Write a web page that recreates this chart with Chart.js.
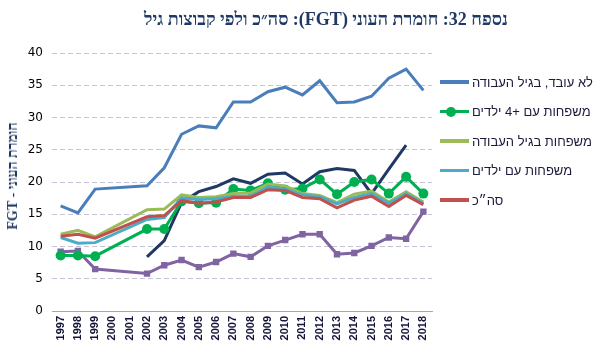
<!DOCTYPE html>
<html><head><meta charset="utf-8">
<script src="https://cdn.jsdelivr.net/npm/chart.js@4.4.1/dist/chart.umd.min.js"></script>
<style>
html,body{margin:0;padding:0;background:#fff;}
#wrap{width:600px;height:356px;position:relative;overflow:hidden;}
#title{position:absolute;left:0;width:652px;top:8px;text-align:center;font:bold 18px "Liberation Serif",serif;color:#1F3864;direction:rtl;white-space:nowrap;line-height:22px;}
#ytitle{position:absolute;left:13px;top:176px;transform:translate(-50%,-50%) rotate(-90deg);font:bold 14px "Liberation Serif",serif;color:#1F3864;direction:rtl;white-space:nowrap;line-height:16px;}
.lg{position:absolute;left:440px;height:20px;display:flex;align-items:center;white-space:nowrap;}
.lg .ln{width:29px;height:3.5px;position:relative;flex:none;}
.lg .dot{position:absolute;left:6px;top:-3.25px;width:10px;height:10px;border-radius:50%;}
.lg .tx{margin-left:3px;font:13px "Liberation Sans",sans-serif;color:#1a1a3a;direction:rtl;}
</style>
</head><body><div id="wrap"><canvas id="c" width="600" height="356"></canvas>
<div id="title"></div><div id="ytitle"></div><div id="legend"></div></div>
<script>
const years = ['1997','1998','1999','2000','2001','2002','2003','2004','2005','2006','2007','2008','2009','2010','2011','2012','2013','2014','2015','2016','2017','2018'];
const notWorking = [16.3,15.2,18.9,null,null,19.4,22.2,27.4,28.7,28.4,32.4,32.4,34.0,34.7,33.5,35.7,32.3,32.4,33.3,36.1,37.5,34.2];
const navySeries = [null,null,null,null,null,8.4,10.9,16.8,18.5,19.3,20.5,19.8,21.2,21.4,19.7,21.6,22.1,21.8,18.2,22.0,25.7,null];
const bigFamilies = [8.6,8.6,8.5,null,null,12.7,12.7,17.0,16.7,16.8,18.9,18.7,19.8,18.8,19.0,20.4,18.1,20.0,20.4,18.2,20.8,18.2];
const workingAge = [11.9,12.5,11.5,null,null,15.7,15.8,18.0,17.6,17.7,18.2,18.3,19.7,19.4,18.2,17.9,16.8,18.1,18.6,16.9,18.5,16.9];
const withChildren = [11.4,10.5,10.6,null,null,14.2,14.5,17.5,17.3,17.4,17.8,17.8,19.2,18.9,18.0,17.7,16.6,17.6,18.2,16.7,18.2,16.7];
const total = [11.6,11.9,11.3,null,null,14.6,14.8,17.1,16.7,16.9,17.6,17.6,18.8,18.7,17.6,17.4,16.0,17.2,17.8,16.2,17.9,16.5];
const purpleSeries = [9.2,9.3,6.5,null,null,5.8,7.1,7.9,6.8,7.6,8.9,8.4,10.1,11.0,11.9,11.9,8.8,9.0,10.1,11.4,11.2,15.4];
const yTicks = [0,5,10,15,20,25,30,35,40];
const titleText = 'נספח 32: חומרת העוני (FGT): סה״כ ולפי קבוצות גיל';
const yTitleText = 'חומרת העוני - FGT';

const datasets = [
  {label:'סה״כ', data: total, borderColor:'#C0504D', inLegend:true, legendIdx:4},
  {label:'משפחות עם ילדים', data: withChildren, borderColor:'#4BACC6', inLegend:true, legendIdx:3},
  {label:'משפחות בגיל העבודה', data: workingAge, borderColor:'#9BBB59', inLegend:true, legendIdx:2},
  {label:'משפחות עם +4 ילדים', data: bigFamilies, borderColor:'#00B050', pointRadius:5, pointStyle:'circle', pointBackgroundColor:'#00B050', inLegend:true, legendIdx:1},
  {label:'לא עובד, בגיל העבודה', data: notWorking, borderColor:'#4A7EBB', inLegend:true, legendIdx:0},
  {label:'navy', data: navySeries, borderColor:'#1F3864', inLegend:false},
  {label:'purple', data: purpleSeries, borderColor:'#8064A2', pointRadius:4.5, pointStyle:'rect', pointBackgroundColor:'#8064A2', inLegend:false}
].map(d => Object.assign({borderWidth:3, pointRadius:0, spanGaps:true, tension:0, fill:false, pointBorderWidth:0, pointHoverRadius:0}, d));

document.getElementById('title').textContent = titleText;
document.getElementById('ytitle').textContent = yTitleText;
const lgEl = document.getElementById('legend');
datasets.filter(d => d.inLegend).sort((a,b)=>a.legendIdx-b.legendIdx).forEach((d,i) => {
  const row = document.createElement('div');
  row.className = 'lg';
  row.style.top = (82 + i*29.5 - 10) + 'px';
  const ln = document.createElement('span'); ln.className = 'ln'; ln.style.background = d.borderColor;
  if (d.pointStyle === 'circle') { const dot = document.createElement('span'); dot.className='dot'; dot.style.background = d.borderColor; ln.appendChild(dot); }
  const tx = document.createElement('span'); tx.className = 'tx'; tx.textContent = d.label;
  row.appendChild(ln); row.appendChild(tx); lgEl.appendChild(row);
});

new Chart(document.getElementById('c'), {
  type:'line',
  data:{labels: years, datasets},
  options:{
    responsive:false, animation:false,
    layout:{padding:{top:53, right:168, left:0, bottom:0}},
    plugins:{legend:{display:false}, title:{display:false}, tooltip:{enabled:false}},
    scales:{
      x:{
        offset:true,
        grid:{display:false, drawTicks:false},
        border:{display:true, color:'#a6a6b6', width:1},
        ticks:{minRotation:90, maxRotation:90, padding:5, color:'#14143a', font:{family:'"Liberation Sans"', size:11, weight:'bold'}, autoSkip:false},
        afterFit(s){ s.height = 45; }
      },
      y:{
        min:0, max:40,
        afterBuildTicks(s){ s.ticks = yTicks.map(v=>({value:v})); },
        grid:{color:'#c4c4d4', drawTicks:false, lineWidth:1},
        border:{display:false, dash:[5,3]},
        ticks:{padding:9, color:'#000', font:{family:'"DejaVu Sans"', size:12}},
        afterFit(s){ s.width = 52; }
      }
    }
  }
});
</script></body></html>
